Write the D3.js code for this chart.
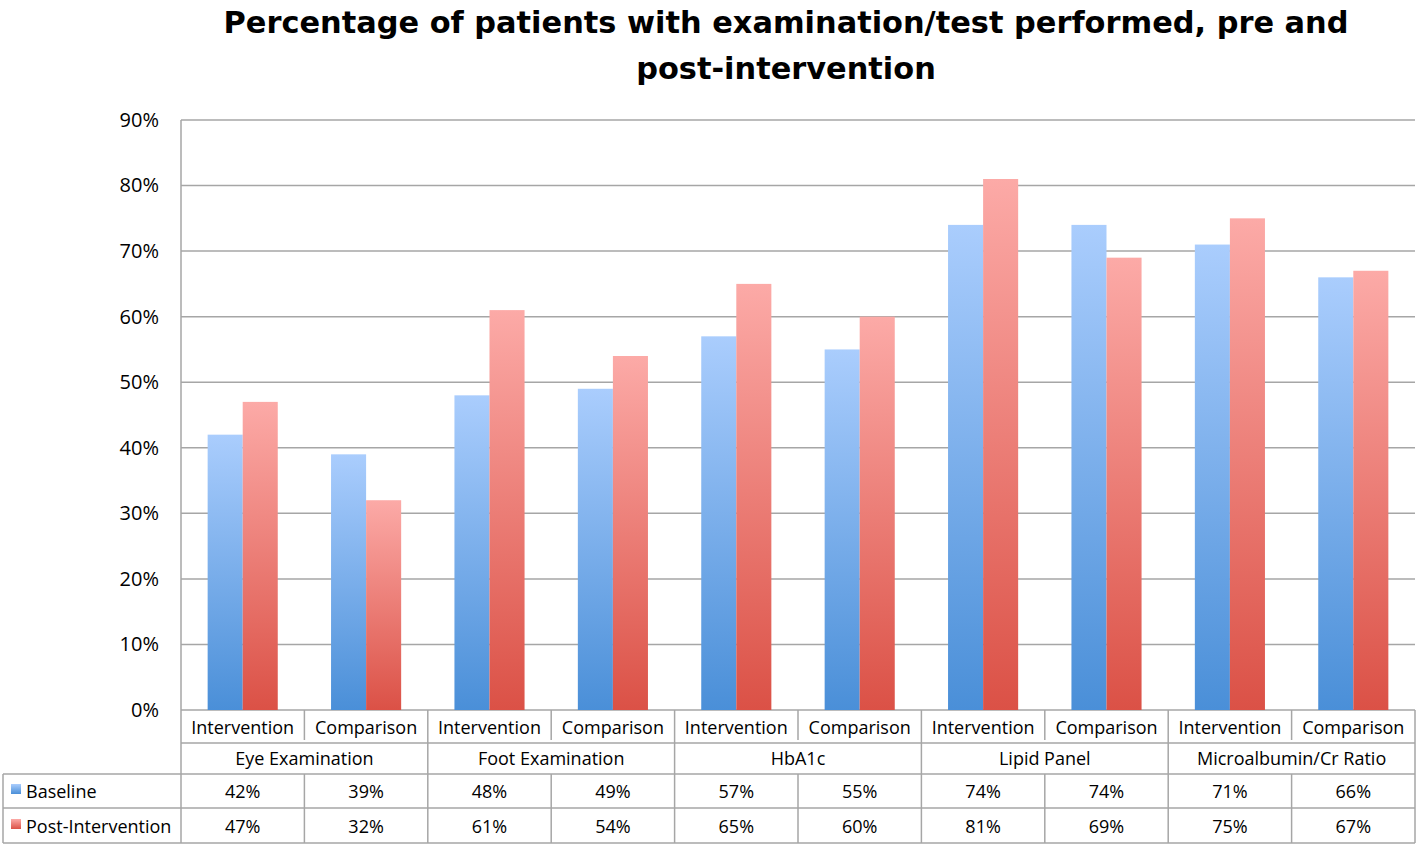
<!DOCTYPE html>
<html><head><meta charset="utf-8">
<script src="https://cdn.jsdelivr.net/npm/d3@7"></script>
<style>body{margin:0;background:#fff}svg{display:block}</style>
</head><body>
<svg id="c" width="1418" height="846"></svg>
<script>
const groups = ["Eye Examination","Foot Examination","HbA1c","Lipid Panel","Microalbumin/Cr Ratio"];
const subgroups = ["Intervention","Comparison"];
const seriesNames = ["Baseline","Post-Intervention"];
const baseline = [42,39,48,49,57,55,74,74,71,66];
const post = [47,32,61,54,65,60,81,69,75,67];
const yTicks = [0,10,20,30,40,50,60,70,80,90];
const titleLines = ["Percentage of patients with examination/test performed, pre and","post-intervention"];

const svg = d3.select("#c");
const L=181, R=1415, T=120, B=710;
const cats = [];
groups.forEach(g=>subgroups.forEach(s=>cats.push(g+"|"+s)));
const series=[baseline,post];

const defs=svg.append("defs");
const grads=[["#aacdfd","#4a8fd8"],["#fcaaa7","#db5146"]];
grads.forEach((c,i)=>{
  const g=defs.append("linearGradient").attr("id","g"+i).attr("x1",0).attr("x2",0).attr("y1",0).attr("y2",1);
  g.append("stop").attr("offset","0%").attr("stop-color",c[0]);
  g.append("stop").attr("offset","100%").attr("stop-color",c[1]);
});

const x=d3.scaleBand().domain(cats).range([L,R]);
const xs=d3.scaleBand().domain(seriesNames).range([0,x.bandwidth()]).paddingInner(0).paddingOuter(0.76);
const y=d3.scaleLinear().domain([0,90]).range([B,T]);

// gridlines
svg.append("g").selectAll("line").data(yTicks).join("line")
 .attr("x1",L).attr("x2",R).attr("y1",d=>y(d)).attr("y2",d=>y(d))
 .attr("stroke","#a6a6a6").attr("stroke-width",1.5);
svg.append("line").attr("x1",L).attr("x2",L).attr("y1",T).attr("y2",B).attr("stroke","#a6a6a6").attr("stroke-width",1.5);

// y labels
const yAxis=d3.axisLeft(y).tickValues(yTicks).tickFormat(d=>d+"%").tickSize(0).tickPadding(22);
const ya=svg.append("g").attr("transform",`translate(${L},0)`).call(yAxis);
ya.select(".domain").remove();
ya.selectAll("text").attr("font-family","'Open Sans',sans-serif").attr("font-size",20).attr("fill","#000");

// bars
series.forEach((vals,si)=>{
  svg.append("g").selectAll("rect").data(vals).join("rect")
   .attr("x",(d,i)=>x(cats[i])+xs(seriesNames[si]))
   .attr("width",xs.bandwidth())
   .attr("y",d=>y(d)).attr("height",d=>B-y(d))
   .attr("fill",`url(#g${si})`);
});

// title
svg.append("g").selectAll("text").data(titleLines).join("text")
 .attr("x",786).attr("y",(d,i)=>33+i*46).attr("text-anchor","middle")
 .attr("font-family","'DejaVu Sans',sans-serif").attr("font-weight","bold").attr("font-size",30.4)
 .attr("fill","#000").text(d=>d);

// table
const tc="#a6a6a6", tf="'Open Sans',sans-serif", fs=18;
const r1=[B,743], r2=[743,774], r3=[774,808], r4=[808,843];
const tg=svg.append("g");
[[L,R,r1[1]],[3,R,r2[1]],[3,R,r3[1]],[3,R,r4[1]]].forEach(l=>tg.append("line").attr("x1",l[0]).attr("x2",l[1]).attr("y1",l[2]).attr("y2",l[2]).attr("stroke",tc).attr("stroke-width",1.5));
cats.forEach((c,i)=>{
  const xx=x(c);
  const isGroup=i%2===0;
  tg.append("line").attr("x1",xx).attr("x2",xx).attr("y1",isGroup?B:r3[0]).attr("y2",r4[1]).attr("stroke",tc).attr("stroke-width",1.5);
  if(!isGroup) tg.append("line").attr("x1",xx).attr("x2",xx).attr("y1",B).attr("y2",740).attr("stroke",tc).attr("stroke-width",1.5);
});
tg.append("line").attr("x1",R).attr("x2",R).attr("y1",B).attr("y2",r4[1]).attr("stroke",tc).attr("stroke-width",1.5);
tg.append("line").attr("x1",3).attr("x2",3).attr("y1",r3[0]).attr("y2",r4[1]).attr("stroke",tc).attr("stroke-width",1.5);
tg.append("g").selectAll("text").data(cats).join("text")
 .attr("x",c=>x(c)+x.bandwidth()/2).attr("y",734).attr("text-anchor","middle")
 .attr("font-family",tf).attr("font-size",fs).attr("fill","#000").text(c=>c.split("|")[1]);
tg.append("g").selectAll("text").data(groups).join("text")
 .attr("x",g=>x(g+"|Intervention")+x.bandwidth()).attr("y",765).attr("text-anchor","middle")
 .attr("font-family",tf).attr("font-size",fs).attr("fill","#000").text(g=>g);
series.forEach((vals,si)=>{
  const yy=si===0?798:833;
  tg.append("g").selectAll("text").data(vals).join("text")
   .attr("x",(d,i)=>x(cats[i])+x.bandwidth()/2).attr("y",yy).attr("text-anchor","middle")
   .attr("font-family",tf).attr("font-size",fs).attr("fill","#000").text(d=>d+"%");
  tg.append("rect").attr("x",11).attr("y",yy-14).attr("width",10).attr("height",10).attr("fill",`url(#g${si})`);
  tg.append("text").attr("x",26).attr("y",yy).attr("font-family",tf).attr("font-size",fs).attr("fill","#000").text(seriesNames[si]);
});
</script>
</body></html>
